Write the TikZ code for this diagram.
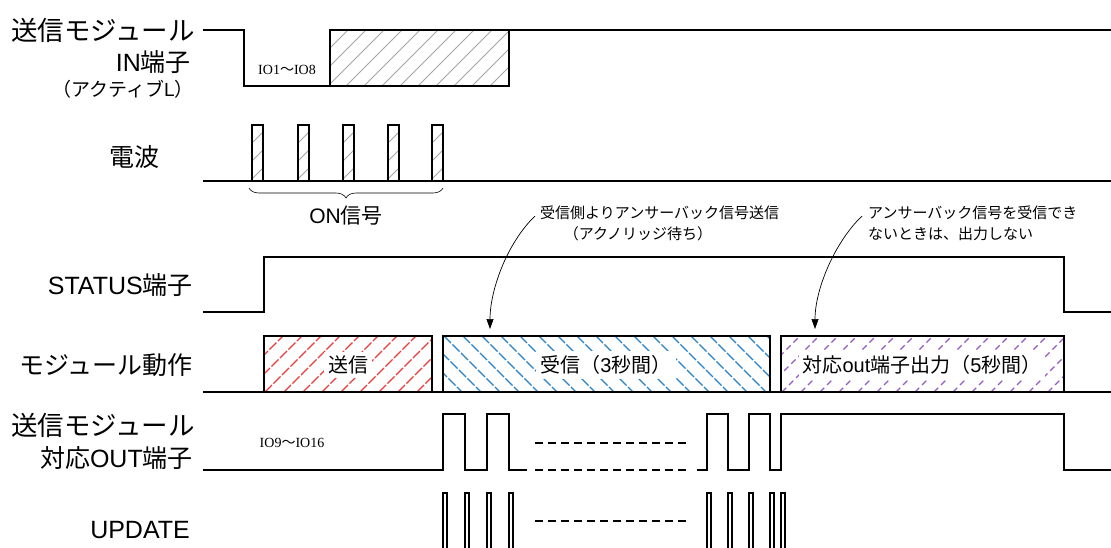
\documentclass[tikz,border=0pt]{standalone}
\usepackage{fontspec}
\setmainfont{Noto Sans CJK JP}
\newfontfamily\ser{Liberation Serif}
\newfontfamily\lat{Liberation Sans}
\usetikzlibrary{arrows.meta,decorations.pathreplacing}
\definecolor{hred}{RGB}{235,60,60}
\definecolor{hblue}{RGB}{40,130,200}
\definecolor{hpurp}{RGB}{150,90,200}
\newcommand\hatchF[6]{%
  \begin{scope}\clip (#1,#2) rectangle (#3,#4);
  \pgfmathsetmacro\hh{#4-#2}\pgfmathsetmacro\st{#1-\hh}\pgfmathsetmacro\nx{\st+#5}\pgfmathsetmacro\en{#3}
  \foreach \k in {\st,\nx,...,\en} \draw[#6] (\k,#4) -- ++(\hh,-\hh);
  \end{scope}}
\newcommand\hatchB[6]{%
  \begin{scope}\clip (#1,#2) rectangle (#3,#4);
  \pgfmathsetmacro\hh{#4-#2}\pgfmathsetmacro\st{#1-\hh}\pgfmathsetmacro\nx{\st+#5}\pgfmathsetmacro\en{#3}
  \foreach \k in {\st,\nx,...,\en} \draw[#6] (\k,#2) -- ++(\hh,\hh);
  \end{scope}}
\begin{document}
\begin{tikzpicture}[x=1pt,y=-1pt,
  sig/.style={line width=1.6pt,line join=miter},
  thinsig/.style={line width=1.3pt,line join=miter},
  dsh/.style={line width=1.2pt,dash pattern=on 8pt off 5pt},
  big/.style={inner sep=0pt,font=\fontsize{25}{28}\selectfont},
  bigw/.style={inner sep=0pt,font=\fontsize{26.5}{30}\selectfont},
  mid/.style={inner sep=0pt,font=\fontsize{19}{22}\selectfont},
  boxt/.style={inner sep=4pt,fill=white,font=\fontsize{20}{22}\selectfont},
  note/.style={inner sep=0pt,font=\fontsize{15}{17}\selectfont},
  io/.style={inner sep=0pt,font=\fontsize{14}{16}\ser},
  arr/.style={line width=0.7pt,-{Triangle[length=10pt,width=7pt]}}]
\useasboundingbox (0,0) rectangle (1111,547);
\fill[white] (0,0) rectangle (1111,547);

% ---------- labels ----------
\node[bigw,anchor=east] (l1a) at (195,30) {送信モジュール};
\node[big,anchor=east] (l1b) at (191,62) {{\lat IN}端子};
\node[mid,anchor=east] (l1c) at (194,89) {（アクティブ{\lat L}）};
\node[big] (l2) at (134,157) {電波};
\node[big,anchor=east] (l3) at (193,285) {{\lat STATUS}端子};
\node[big,anchor=east] (l4) at (193,365) {モジュール動作};
\node[bigw,anchor=east] (l5a) at (195,425) {送信モジュール};
\node[big,anchor=east] (l5b) at (193,458) {対応{\lat OUT}端子};
\node[big,anchor=east] (l6) at (190,530) {\lat UPDATE};

% ---------- IN row ----------
\hatchF{330}{30}{509}{86}{18}{gray!70,line width=0.8pt}
\draw[sig] (203,30) -- (244,30) -- (244,86) -- (509,86) -- (509,30) -- (1111,30);
\draw[sig] (330,86) -- (330,30) -- (509,30);
\node[io] (io1) at (287,70) {IO1{\rmfamily ～}IO8};

% ---------- radio row ----------
\draw[sig] (203,181) -- (1111,181);
\foreach \x in {252,298,343,388,432}{
  \pgfmathsetmacro\xe{\x+11}
  \hatchF{\x}{125}{\xe}{181}{18}{gray!70,line width=0.8pt}
  \draw[thinsig] (\x,181) rectangle (\xe,125);
}
\draw[line width=0.6pt,decorate,decoration={brace,amplitude=10pt}] (443,188) -- (249,188);
\node[inner sep=0pt,font=\fontsize{21}{24}\selectfont] (on) at (346,216) {{\lat ON}信号};

% ---------- STATUS row ----------
\draw[sig] (203,312) -- (264,312) -- (264,257) -- (1064,257) -- (1064,312) -- (1111,312);

% ---------- module row ----------
\hatchF{264}{336}{432}{392}{19}{hred,line width=1.1pt,dash pattern=on 10pt off 2pt}
\hatchB{443}{336}{770}{392}{19}{hblue,line width=1.1pt,dash pattern=on 10pt off 2pt}
\hatchF{781}{336}{1064}{392}{19}{hpurp,line width=1.1pt,dash pattern=on 6pt off 4pt}
\draw[sig] (203,392) -- (1111,392);
\draw[sig] (264,392) rectangle (432,336);
\draw[sig] (443,392) rectangle (770,336);
\draw[sig] (781,392) rectangle (1064,336);
\node[boxt] (b1) at (348,365) {送信};
\node[boxt] (b2) at (606,365) {受信（{\lat 3}秒間）};
\node[boxt] (b3) at (922,365) {対応{\lat out}端子出力（{\lat 5}秒間）};

% ---------- annotations ----------
\node[note,anchor=west] (n1a) at (540,213) {受信側よりアンサーバック信号送信};
\node[note] (n1b) at (638,234) {（アクノリッジ待ち）};
\node[note,anchor=west] (n2a) at (868,213) {アンサーバック信号を受信でき};
\node[note,anchor=west] (n2b) at (868,234) {ないときは、出力しない};
\coordinate (a1s) at (535,216);
\coordinate (a1e) at (490,329);
\coordinate (a2s) at (862,216);
\coordinate (a2e) at (815,329);
\draw[arr] (a1s) .. controls (507,243) and (490,290) .. (a1e);
\draw[arr] (a2s) .. controls (834,243) and (815,290) .. (a2e);

% ---------- OUT row ----------
\draw[sig] (203,470) -- (443,470) -- (443,414) -- (465,414) -- (465,470) -- (487,470) -- (487,414) -- (509,414) -- (509,470) -- (527,470);
\draw[dsh] (535,443) -- (690,443);
\draw[dsh] (535,470) -- (690,470);
\draw[sig] (697,470) -- (707,470) -- (707,414) -- (728,414) -- (728,470) -- (749,470) -- (749,414) -- (770,414) -- (770,470) -- (781,470) -- (781,414) -- (1064,414) -- (1064,470) -- (1111,470);
\node[io] (io2) at (292,443) {IO9{\rmfamily ～}IO16};

% ---------- UPDATE row ----------
\foreach \x in {443,465,487,509,707,728,749,770,781}{
  \draw[thinsig] (\x,548) -- (\x,493) -- (\x+4,493) -- (\x+4,548);
}
\draw[dsh] (535,521) -- (690,521);
\end{tikzpicture}
\end{document}
